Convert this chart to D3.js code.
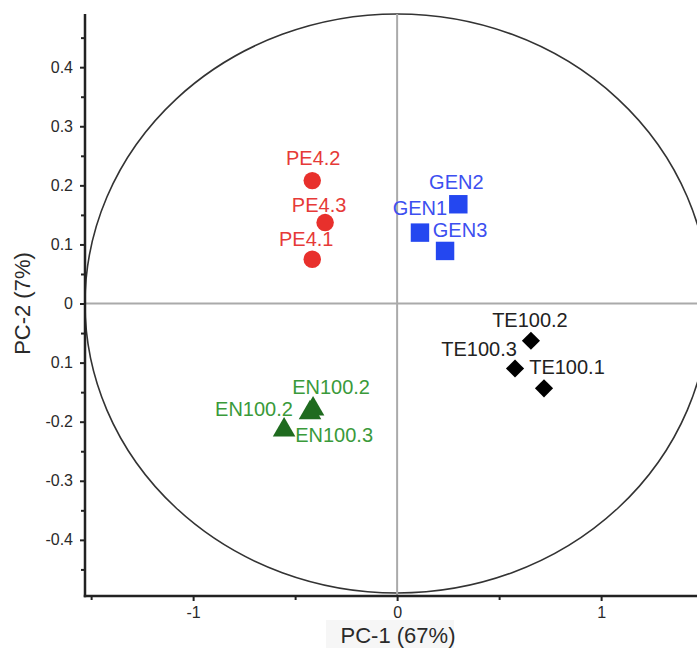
<!DOCTYPE html>
<html>
<head>
<meta charset="utf-8">
<script src="https://cdn.jsdelivr.net/npm/d3@7"></script>
<style>
  html, body { margin: 0; padding: 0; background: #fff; }
  svg { display: block; font-family: "Liberation Sans", Arial, sans-serif; }
</style>
</head>
<body>
<svg id="chart" width="697" height="648"></svg>
<script>
// ---- data ----
const peNames = ["PE4.2", "PE4.3", "PE4.1"];
const peX = [-0.416, -0.353, -0.416];
const peY = [0.208, 0.137, 0.075];

const genNames = ["GEN2", "GEN1", "GEN3"];
const genX = [0.300, 0.112, 0.235];
const genY = [0.168, 0.120, 0.089];

const teNames = ["TE100.2", "TE100.3", "TE100.1"];
const teX = [0.656, 0.578, 0.720];
const teY = [-0.063, -0.110, -0.1435];

const enNames = ["EN100.2", "EN100.2", "EN100.3"];
const enX = [-0.412, -0.427, -0.554];
const enY = [-0.1785, -0.185, -0.214];

const xTickValues = [-1, 0, 1];
const xTickLabels = ["-1", "0", "1"];
const xMinorTicks = [-1.5, -0.5, 0.5];
const yTickValues = [0.4, 0.3, 0.2, 0.1, 0, -0.1, -0.2, -0.3, -0.4];
const yTickLabels = ["0.4", "0.3", "0.2", "0.1", "0", "0.1", "-0.2", "-0.3", "-0.4"];
const yMinorTicks = [0.45, 0.35, 0.25, 0.15, 0.05, -0.05, -0.15, -0.25, -0.35, -0.45];

// label offsets in pixels (dx, dy) relative to marker
const peLabelOff = [[1, -23], [-6, -18], [-6, -20]];
const genLabelOff = [[-2, -22], [0, -25], [15, -21]];
const teLabelOff = [[-1, -21], [-36, -20], [23, -22]];
const enLabelOff = [[18, -22], [-56, -4], [50, 5]];

// ---- scales ----
const svg = d3.select("#chart");
const x = d3.scaleLinear().domain([-1.53, 1.47]).range([85, 697]);
const y = d3.scaleLinear().domain([-0.495, 0.49]).range([596, 14]);

// faint background behind x title
svg.append("rect").attr("x", 326).attr("y", 620).attr("width", 128).attr("height", 28)
  .attr("fill", "#f6f6f6");

// correlation circle (ellipse in data space)
svg.append("ellipse")
  .attr("cx", x(0)).attr("cy", y(0))
  .attr("rx", x(0) - x(-1.53)).attr("ry", y(0) - y(0.49))
  .attr("fill", "none").attr("stroke", "#333").attr("stroke-width", 1.6);

// zero lines
svg.append("line").attr("x1", x(-1.53)).attr("x2", 697).attr("y1", y(0)).attr("y2", y(0))
  .attr("stroke", "#aaa").attr("stroke-width", 2);
svg.append("line").attr("x1", x(0)).attr("x2", x(0)).attr("y1", y(0.49)).attr("y2", y(-0.495))
  .attr("stroke", "#aaa").attr("stroke-width", 2);

// axes
const yAxis = d3.axisLeft(y).tickValues(yTickValues).tickSize(5).tickPadding(7)
  .tickFormat((d, i) => yTickLabels[i]);
const yMinor = d3.axisLeft(y).tickValues(yMinorTicks).tickSize(4).tickFormat("");
const xAxis = d3.axisBottom(x).tickValues(xTickValues).tickSize(5).tickPadding(6)
  .tickFormat((d, i) => xTickLabels[i]);
const xMinor = d3.axisBottom(x).tickValues(xMinorTicks).tickSize(4).tickFormat("");

function styleAxis(g) {
  g.select(".domain").remove();
  g.selectAll("line").attr("stroke", "#222").attr("stroke-width", 2);
  g.selectAll("text").attr("fill", "#2a2a2a").style("font-size", "16px")
    .style("font-family", "'Liberation Sans', Arial, sans-serif");
}
svg.append("g").attr("transform", `translate(${x(-1.53)},0)`).call(yAxis).call(styleAxis);
svg.append("g").attr("transform", `translate(${x(-1.53)},0)`).call(yMinor).call(styleAxis);
svg.append("g").attr("transform", `translate(0,${y(-0.495)})`).call(xAxis).call(styleAxis);
svg.append("g").attr("transform", `translate(0,${y(-0.495)})`).call(xMinor).call(styleAxis);

// axis lines
svg.append("line").attr("x1", x(-1.53)).attr("x2", x(-1.53)).attr("y1", y(0.49)).attr("y2", y(-0.495) + 1.25)
  .attr("stroke", "#222").attr("stroke-width", 2.5);
svg.append("line").attr("x1", x(-1.53) - 1.25).attr("x2", 697).attr("y1", y(-0.495)).attr("y2", y(-0.495))
  .attr("stroke", "#222").attr("stroke-width", 2.5);

// titles
svg.append("text").attr("x", 398).attr("y", 643).attr("text-anchor", "middle")
  .attr("fill", "#2a2a2a").style("font-size", "22px").text("PC-1 (67%)");
svg.append("text").attr("transform", `translate(30,${y(0)}) rotate(-90)`).attr("text-anchor", "middle")
  .attr("fill", "#2a2a2a").style("font-size", "22px").text("PC-2 (7%)");

// groups
const groups = [
  {names: peNames, xs: peX, ys: peY, off: peLabelOff, shape: d3.symbolCircle, size: 240, rot: 0, fill: "#e8302c", text: "#e63a38"},
  {names: genNames, xs: genX, ys: genY, off: genLabelOff, shape: d3.symbolSquare, size: 340, rot: 0, fill: "#2447f0", text: "#3d4ff0"},
  {names: teNames, xs: teX, ys: teY, off: teLabelOff, shape: d3.symbolSquare, size: 165, rot: 45, fill: "#000", text: "#222"},
  {names: enNames, xs: enX, ys: enY, off: enLabelOff, shape: d3.symbolTriangle, size: 220, rot: 0, fill: "#1f6b1f", text: "#3a9a3a"}
];

groups.forEach(g => {
  const data = g.names.map((n, i) => ({name: n, x: g.xs[i], y: g.ys[i], off: g.off[i]}));
  const sym = d3.symbol().type(g.shape).size(g.size);
  svg.append("g").selectAll("path").data(data).join("path")
    .attr("d", sym)
    .attr("transform", d => `translate(${x(d.x)},${y(d.y)}) rotate(${g.rot})`)
    .attr("fill", g.fill);
  svg.append("g").selectAll("text").data(data).join("text")
    .attr("x", d => x(d.x) + d.off[0])
    .attr("y", d => y(d.y) + d.off[1])
    .attr("dy", "0.36em")
    .attr("text-anchor", "middle")
    .attr("fill", g.text)
    .style("font-size", "20px")
    .text(d => d.name);
});
</script>
</body>
</html>
